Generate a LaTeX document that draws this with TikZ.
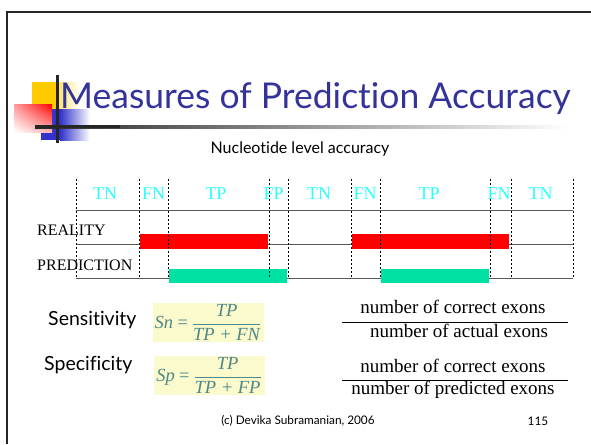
\documentclass[tikz,border=0pt]{standalone}
\usepackage{fontspec}
\setmainfont{Liberation Serif}
\newfontfamily\comic[Ligatures={NoCommon,NoRequired,NoContextual}]{Lato}
\usetikzlibrary{shadings}
\definecolor{titleblue}{RGB}{51,51,153}
\definecolor{labcyan}{RGB}{40,255,255}
\definecolor{barred}{RGB}{255,0,0}
\definecolor{bargreen}{RGB}{0,226,164}
\definecolor{decoyellow}{RGB}{255,204,0}
\definecolor{decoblue}{RGB}{51,51,204}
\definecolor{boxyellow}{RGB}{250,250,205}
\definecolor{formcol}{RGB}{80,135,135}
\begin{document}
\begin{tikzpicture}[x=1pt,y=-1pt,
  seglabel/.style={text=labcyan,font=\fontsize{18}{20}\selectfont,inner sep=0},
  rowlabel/.style={anchor=base west,font=\fontsize{16}{18}\selectfont,inner sep=0},
  guide/.style={dashed,dash pattern=on 2.2pt off 1.8pt,line width=0.8pt},
  track/.style={line width=1pt,black!65},
  measure/.style={anchor=base west,font=\comic\fontsize{19.5}{22}\selectfont,inner sep=0},
  formbox/.style={fill=boxyellow,minimum width=111pt,minimum height=39pt,inner sep=0,text=formcol,font=\fontsize{18.5}{20}\selectfont\itshape},
  ratio/.style={anchor=base,font=\fontsize{19}{22}\selectfont,inner sep=0},
  footer/.style={font=\comic\fontsize{11.8}{13}\selectfont,inner sep=0}]
\useasboundingbox (0,0) rectangle (591,444);
% frame
\draw[line width=2.6pt,black!85] (591,12) -- (7,12) -- (7,444);
% title decoration
\fill[decoyellow] (32,82) rectangle (57,109);
\shade[left color=decoyellow!60,right color=white] (57,82) rectangle (80,109);
\fill[decoblue] (41,109) rectangle (60,140);
\shade[left color=decoblue,right color=white] (60,109) rectangle (90,140);
\shade[upper right=barred,upper left=barred!40,lower left=white,lower right=barred!30] (14,104) rectangle (52,132);
\shade[left color=black!85,right color=white] (35,125.4) rectangle (570,128.2);
\fill[black!85] (35,125.4) rectangle (120,128.2);
\draw[line width=3pt,black!85] (57.5,75) -- (57.5,143);
% title
\node[anchor=base west,text=titleblue,font=\comic\fontsize{35.5}{40}\selectfont,inner sep=0] (title) at (60,108) {Measures of Prediction Accuracy};
\node[anchor=base,font=\comic\fontsize{16}{20}\selectfont,inner sep=0] (sub) at (300,153) {Nucleotide level accuracy};
% tracks
\draw[track] (76,210) -- (573,210);
\draw[track] (76,244) -- (573,244);
\draw[track] (76,278) -- (573,278);
% bars
\fill[barred] (139.5,234) rectangle (268,249);
\fill[barred] (351.5,234) rectangle (509,249);
\fill[bargreen] (169,269) rectangle (287,283);
\fill[bargreen] (381,269) rectangle (489,283);
% guides
\foreach \gx in {76,139.7,168,269,288,351,380,490,511,573}
  \draw[guide] (\gx,179) -- (\gx,278);
% segment labels
\node[seglabel] (l1) at (105,194) {TN};
\node[seglabel] (l2) at (153.7,194) {FN};
\node[seglabel] (l3) at (216,194) {TP};
\node[seglabel] (l4) at (273.7,194) {FP};
\node[seglabel] (l5) at (319,194) {TN};
\node[seglabel] (l6) at (365,194) {FN};
\node[seglabel] (l7) at (429,194) {TP};
\node[seglabel] (l8) at (499,194) {FN};
\node[seglabel] (l9) at (540.5,194) {TN};
\node[rowlabel] (real) at (37,235.5) {REALITY};
\node[rowlabel] (pred) at (37,270) {PREDICTION};
% measures
\node[measure] (sens) at (48,325) {Sensitivity};
\node[measure] (spec) at (44,370) {Specificity};
\node[formbox] (snbox) at (208,322.5) {Sn\,=\,$\displaystyle\frac{\hbox{\itshape TP}}{\hbox{\itshape TP + FN}}$};
\node[formbox] (spbox) at (209,375.5) {Sp\,=\,$\displaystyle\frac{\hbox{\itshape TP}}{\hbox{\itshape TP + FP}}$};
% ratios
\node[ratio] (n1) at (453,313) {number of correct exons};
\node[ratio] (d1) at (459,337) {number of actual exons};
\draw[line width=1pt] (342,322) -- (568,322);
\node[ratio] (n2) at (453,372) {number of correct exons};
\node[ratio] (d2) at (453,394) {number of predicted exons};
\draw[line width=1pt] (342,380) -- (568,380);
% footer
\node[footer] (foot) at (298,421) {(c) Devika Subramanian, 2006};
\node[footer] (page) at (538,421) {115};
\end{tikzpicture}
\end{document}
